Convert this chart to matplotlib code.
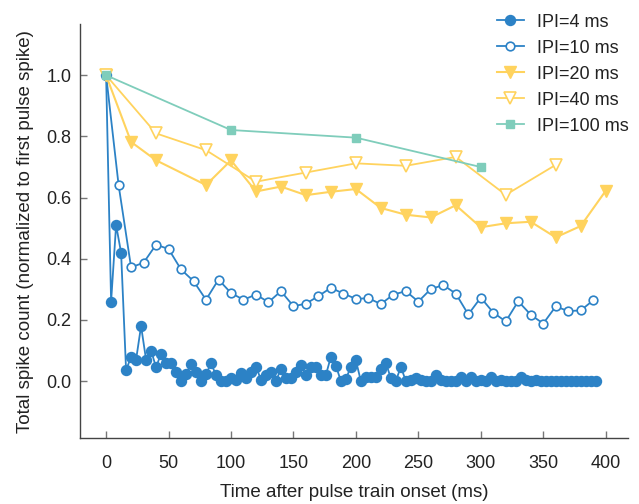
import numpy as np
import matplotlib
matplotlib.use("Agg")
import matplotlib.pyplot as plt

plt.rcParams['font.family'] = ['Liberation Sans', 'DejaVu Sans']

# Normalized spike counts per pulse for each inter-pulse interval (IPI)
ipi4_vals = [
    1.0, 0.26, 0.51, 0.42, 0.035, 0.08, 0.07, 0.18, 0.07, 0.10,
    0.045, 0.09, 0.06, 0.06, 0.03, 0.0, 0.022, 0.055, 0.03, 0.0,
    0.022, 0.058, 0.02, 0.0, 0.0, 0.01, 0.005, 0.027, 0.01, 0.03,
    0.047, 0.005, 0.02, 0.03, 0.0, 0.04, 0.01, 0.01, 0.03, 0.052,
    0.02, 0.047, 0.047, 0.02, 0.02, 0.08, 0.05, 0.0, 0.007, 0.047,
    0.068, 0.0, 0.014, 0.012, 0.012, 0.041, 0.06, 0.009, 0.0, 0.047,
    0.0, 0.005, 0.01, 0.005, 0.0, 0.0, 0.02, 0.005, 0.0, 0.0,
    0.0, 0.012, 0.0, 0.012, 0.0, 0.005, 0.0, 0.012, 0.0, 0.005,
    0.0, 0.0, 0.0, 0.015, 0.005, 0.0, 0.005, 0.0, 0.0, 0.0,
    0.0, 0.0, 0.0, 0.0, 0.0, 0.0, 0.0, 0.0, 0.0,
]
ipi10_vals = [
    1.0, 0.641, 0.372, 0.387, 0.446, 0.432, 0.365, 0.327, 0.266, 0.332,
    0.288, 0.266, 0.283, 0.258, 0.294, 0.245, 0.253, 0.278, 0.305, 0.286,
    0.269, 0.271, 0.252, 0.283, 0.294, 0.26, 0.301, 0.314, 0.286, 0.218,
    0.273, 0.224, 0.195, 0.261, 0.217, 0.188, 0.244, 0.229, 0.231, 0.264,
]
ipi20_t = [0, 20, 40, 80, 100, 120, 140, 160, 180, 200, 220, 240, 260,
           280, 300, 320, 340, 360, 380, 400]
ipi20_vals = [1.0, 0.782, 0.722, 0.641, 0.722, 0.62, 0.636, 0.608, 0.619,
              0.628, 0.566, 0.544, 0.535, 0.575, 0.503, 0.516, 0.521, 0.47,
              0.507, 0.622]
ipi40_t = [0, 40, 80, 120, 160, 200, 240, 280, 320, 360]
ipi40_vals = [1.0, 0.81, 0.755, 0.652, 0.682, 0.712, 0.704, 0.733, 0.609, 0.707]
ipi100_t = [0, 100, 200, 300]
ipi100_vals = [1.0, 0.821, 0.796, 0.70]

ipi4_t = np.arange(len(ipi4_vals)) * 4
ipi10_t = np.arange(len(ipi10_vals)) * 10

blue = "#2c82c6"
yellow = "#ffd35e"
teal = "#7fcdbb"
text_col = "#222222"

fig = plt.figure(figsize=(6.39, 5.04), dpi=100)
ax = fig.add_axes([0.125, 0.131, 0.858, 0.821])

ax.plot(ipi4_t, ipi4_vals, color=blue, lw=1.3, marker='o', ms=7.2,
        mfc=blue, mec=blue, label="IPI=4 ms")
ax.plot(ipi10_t, ipi10_vals, color=blue, lw=1.3, marker='o', ms=6.2,
        mfc='white', mec=blue, mew=1.2, label="IPI=10 ms")
ax.plot(ipi20_t, ipi20_vals, color=yellow, lw=1.5, marker='v', ms=8.5,
        mfc=yellow, mec=yellow, label="IPI=20 ms")
ax.plot(ipi40_t, ipi40_vals, color=yellow, lw=1.3, marker='v', ms=8.0,
        mfc='white', mec=yellow, mew=1.2, label="IPI=40 ms")
ax.plot(ipi100_t, ipi100_vals, color=teal, lw=1.3, marker='s', ms=6.0,
        mfc=teal, mec=teal, label="IPI=100 ms")

ax.set_xlim(-21, 418)
ax.set_ylim(-0.186, 1.167)
ax.set_xticks([0, 50, 100, 150, 200, 250, 300, 350, 400])
ax.set_yticks([0.0, 0.2, 0.4, 0.6, 0.8, 1.0])
ax.set_yticklabels(["0.0", "0.2", "0.4", "0.6", "0.8", "1.0"])

for side in ("top", "right"):
    ax.spines[side].set_visible(False)
for side in ("left", "bottom"):
    ax.spines[side].set_color("#444444")
    ax.spines[side].set_linewidth(1.0)

ax.tick_params(direction='in', length=5, width=1.0, color="#777777",
               labelsize=13, labelcolor=text_col)
ax.tick_params(axis='x', pad=12)
ax.tick_params(axis='y', pad=6)

ax.set_xlabel("Time after pulse train onset (ms)", fontsize=13.5,
              color=text_col, labelpad=9)
ax.set_ylabel("Total spike count (normalized to first pulse spike)",
              fontsize=13.5, color=text_col, labelpad=9)

leg = ax.legend(loc='upper right', bbox_to_anchor=(1.03, 1.065), frameon=False,
                fontsize=13, handlelength=1.5, handletextpad=0.7,
                labelspacing=0.5)
for t in leg.get_texts():
    t.set_color(text_col)

fig.savefig("out.png", dpi=100)
